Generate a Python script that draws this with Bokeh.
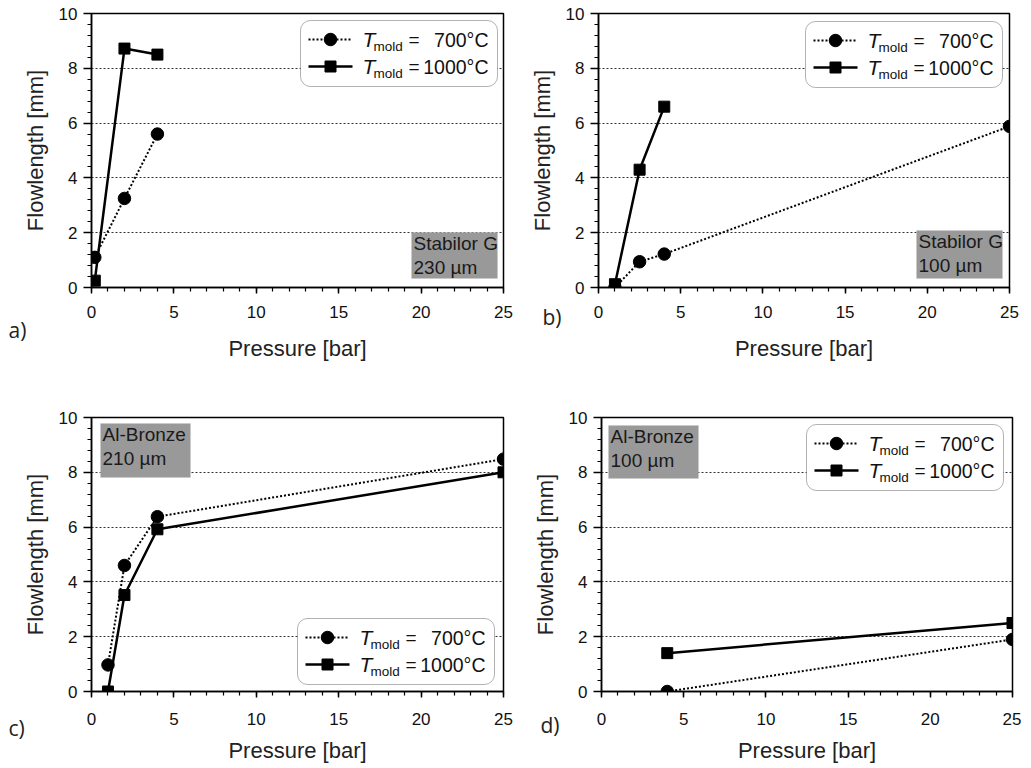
from bokeh.plotting import figure
from bokeh.layouts import column, row
from bokeh.models import Range1d, BoxAnnotation, Label, FixedTicker, Title
from bokeh.embed import file_html
from bokeh.resources import INLINE

# ---------------- data ----------------
x_ticks = [0, 5, 10, 15, 20, 25]
y_ticks = [0, 2, 4, 6, 8, 10]
x_minor = [i for i in range(0, 26)]
y_minor = [i * 0.4 for i in range(0, 26)]

series_values = ["700°C", "1000°C"]

a_pressure_700 = [0.2, 2, 4]
a_flow_700 = [1.1, 3.25, 5.6]
a_pressure_1000 = [0.2, 2, 4]
a_flow_1000 = [0.25, 8.72, 8.5]

b_pressure_700 = [1, 2.5, 4, 25]
b_flow_700 = [0.0, 0.94, 1.22, 5.88]
b_pressure_1000 = [1, 2.5, 4]
b_flow_1000 = [0.12, 4.3, 6.6]

c_pressure_700 = [1, 2, 4, 25]
c_flow_700 = [0.97, 4.6, 6.38, 8.48]
c_pressure_1000 = [1, 2, 4, 25]
c_flow_1000 = [0.0, 3.52, 5.92, 8.0]

d_pressure_700 = [4, 25]
d_flow_700 = [0.0, 1.9]
d_pressure_1000 = [4, 25]
d_flow_1000 = [1.4, 2.5]

panel_letters = ["a)", "b)", "c)", "d)"]
materials = [["Stabilor G", "230 µm"], ["Stabilor G", "100 µm"],
             ["Al-Bronze", "210 µm"], ["Al-Bronze", "100 µm"]]

# ---------------- layout / style (pixels) ----------------
FH = 274
LAYOUT = [
    dict(left=91, right=12, top=13, bottom=80, fw=412, legend=(209, 7), box=(320, 219, 86, 46),
         letter_dx=-83, letter_so=-96, tick_so=12, label_so=15),
    dict(left=83, right=12, top=13, bottom=80, fw=411, legend=(207, 8), box=(318, 217, 86, 48),
         letter_dx=-56, letter_so=-122, tick_so=12, label_so=15),
    dict(left=91, right=12, top=50, bottom=77, fw=412, legend=(206, 201), box=(9, 6, 90, 54),
         letter_dx=-83, letter_so=-104, tick_so=15, label_so=10),
    dict(left=86, right=9, top=50, bottom=77, fw=411, legend=(205, 7), box=(7, 8, 90, 53),
         letter_dx=-61, letter_so=-110, tick_so=15, label_so=10),
]
LEG_W, LEG_H = 197, 66
ROWS = [19, 46]
FONT = "Liberation Sans"


def build(i, p700, f700, p1000, f1000):
    L = LAYOUT[i]
    fw = L["fw"]
    p = figure(frame_width=fw, frame_height=FH,
               x_range=Range1d(0, 25), y_range=Range1d(0, 10),
               output_backend="svg", toolbar_location=None,
               min_border_left=L["left"], min_border_right=L["right"],
               min_border_top=L["top"], min_border_bottom=L["bottom"],
               background_fill_color="white", border_fill_color="white")
    sx = 25.0 / fw
    sy = 10.0 / FH

    def X(px):
        return px * sx

    def Y(py):
        return 10 - py * sy

    p.outline_line_color = "black"
    p.outline_line_width = 1.5
    p.outline_line_alpha = 1.0

    p.xaxis.ticker = FixedTicker(ticks=x_ticks, minor_ticks=x_minor)
    p.yaxis.ticker = FixedTicker(ticks=y_ticks, minor_ticks=y_minor)
    p.xaxis.axis_label = "Pressure [bar]"
    p.yaxis.axis_label = "Flowlength [mm]"
    for ax in (p.xaxis[0], p.yaxis[0]):
        ax.axis_line_color = "black"
        ax.axis_line_width = 1.5
        ax.major_tick_line_color = "black"
        ax.major_tick_line_width = 1.5
        ax.minor_tick_line_color = "black"
        ax.minor_tick_line_width = 1.2
        ax.major_tick_in = 0
        ax.minor_tick_in = 0
        ax.major_label_text_font = FONT
        ax.major_label_text_font_size = "17px"
        ax.major_label_text_color = "#111111"
        ax.axis_label_text_font = FONT
        ax.axis_label_text_font_size = "22px"
        ax.axis_label_text_font_style = "normal"
        ax.axis_label_text_color = "#222222"
    p.xaxis.major_tick_out = 6
    p.xaxis.minor_tick_out = 4
    p.yaxis.major_tick_out = 8
    p.yaxis.minor_tick_out = 4
    p.xaxis.major_label_standoff = L["tick_so"]
    p.xaxis.axis_label_standoff = L["label_so"]
    p.yaxis.major_label_standoff = 6
    p.yaxis.axis_label_standoff = 8

    p.xgrid.visible = False
    p.ygrid.grid_line_color = "#333333"
    p.ygrid.grid_line_dash = "2 2"
    p.ygrid.grid_line_width = 1

    # data series
    p.line(p700, f700, line_color="black", line_width=2, line_dash="2 2")
    p.scatter(p700, f700, marker="circle", size=12.5, fill_color="black", line_color="black")
    p.line(p1000, f1000, line_color="black", line_width=2.5)
    p.scatter(p1000, f1000, marker="square", size=11, fill_color="black", line_color="black")

    # material box
    bx, by, bw, bh = L["box"]
    p.add_layout(BoxAnnotation(left=X(bx), right=X(bx + bw), top=Y(by), bottom=Y(by + bh),
                               fill_color="#999999", fill_alpha=1.0,
                               line_color="#c8c8c8", line_width=1, level="underlay"))
    mat = materials[i]
    p.add_layout(Label(x=X(bx + 2), y=Y(by + 11), text=mat[0], text_font=FONT,
                       text_font_size="19px", text_color="#1a1a1a",
                       text_align="left", text_baseline="middle"))
    p.add_layout(Label(x=X(bx + 2), y=Y(by + 35), text=mat[1], text_font=FONT,
                       text_font_size="19px", text_color="#1a1a1a",
                       text_align="left", text_baseline="middle"))

    # legend
    lx, ly = L["legend"]
    p.add_layout(BoxAnnotation(left=X(lx), right=X(lx + LEG_W), top=Y(ly), bottom=Y(ly + LEG_H),
                               fill_color="white", fill_alpha=1.0,
                               line_color="black", line_width=1, border_radius=10,
                               level="underlay"))
    styles = [dict(dash="2 2", lw=2, marker="circle", size=12.5),
              dict(dash="solid", lw=2.5, marker="square", size=11)]
    for k, st in enumerate(styles):
        ry = ly + ROWS[k]
        p.line([X(lx + 8), X(lx + 52)], [Y(ry), Y(ry)], line_color="black",
               line_width=st["lw"], line_dash=st["dash"])
        p.scatter([X(lx + 30)], [Y(ry)], marker=st["marker"], size=st["size"],
                  fill_color="black", line_color="black")
        p.add_layout(Label(x=X(lx + 62), y=Y(ry), text="T", text_font=FONT,
                           text_font_style="italic", text_font_size="21px",
                           text_color="#111111", text_align="left", text_baseline="middle"))
        p.add_layout(Label(x=X(lx + 73), y=Y(ry + 7), text="mold", text_font=FONT,
                           text_font_size="13.5px", text_color="#111111",
                           text_align="left", text_baseline="middle"))
        p.add_layout(Label(x=X(lx + 108), y=Y(ry), text="=", text_font=FONT,
                           text_font_size="19px", text_color="#111111",
                           text_align="left", text_baseline="middle"))
        p.add_layout(Label(x=X(lx + 188), y=Y(ry), text=series_values[k], text_font=FONT,
                           text_font_size="19.5px", text_color="#111111",
                           text_align="right", text_baseline="middle"))

    # panel letter, pulled up into the x-axis area
    p.add_layout(Title(text=panel_letters[i], align="left", offset=L["letter_dx"],
                       standoff=L["letter_so"], vertical_align="top",
                       text_font="Open Sans", text_font_size="21px",
                       text_font_style="normal", text_color="#222222"), "below")
    return p


pa = build(0, a_pressure_700, a_flow_700, a_pressure_1000, a_flow_1000)
pb = build(1, b_pressure_700, b_flow_700, b_pressure_1000, b_flow_1000)
pc = build(2, c_pressure_700, c_flow_700, c_pressure_1000, c_flow_1000)
pd = build(3, d_pressure_700, d_flow_700, d_pressure_1000, d_flow_1000)

layout = column(row(pa, pb), row(pc, pd))

open("out.html", "w").write(file_html(layout, INLINE))
